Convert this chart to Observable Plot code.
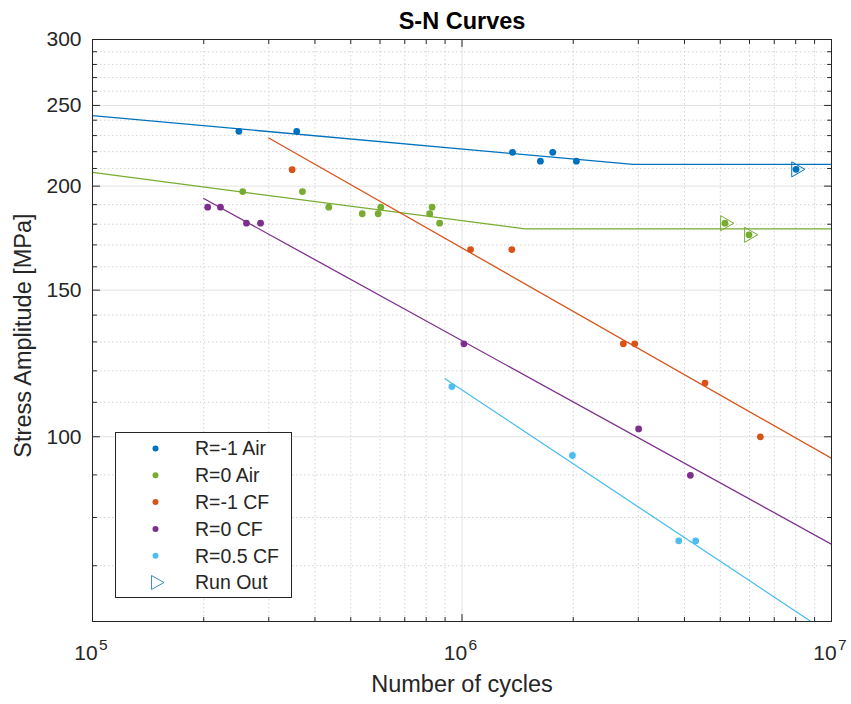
<!DOCTYPE html>
<html>
<head>
<meta charset="utf-8">
<script src="https://cdn.jsdelivr.net/npm/d3@7"></script>
<script src="https://cdn.jsdelivr.net/npm/@observablehq/plot@0.6"></script>
<style>
  html, body { margin: 0; padding: 0; background: #fff; }
  #wrap { position: relative; width: 851px; height: 704px; font-family: "Liberation Sans", Arial, Helvetica, sans-serif; }
</style>
</head>
<body>
<div id="wrap"></div>
<script>
// ---- Data ----
const seriesNames = ["R=-1 Air", "R=0 Air", "R=-1 CF", "R=0 CF", "R=0.5 CF"];
const seriesColors = ["#0072BD", "#77AC30", "#D95319", "#7E2F8E", "#4DBEEE"];

const airR1_N = [2.49e5, 3.57e5, 1.37e6, 1.63e6, 1.76e6, 2.04e6, 8.02e6];
const airR1_S = [232.7, 232.7, 219.6, 214.3, 219.6, 214.3, 209.5];
const airR0_N = [2.55e5, 3.70e5, 4.36e5, 5.37e5, 5.93e5, 6.03e5, 8.18e5, 8.30e5, 8.70e5, 5.15e6, 5.98e6];
const airR0_S = [197, 197, 188.7, 185.3, 185.3, 188.7, 185.3, 188.7, 180.5, 180.5, 174.8];
const cfR1_N = [3.47e5, 1.055e6, 1.364e6, 2.733e6, 2.934e6, 4.547e6, 6.42e6];
const cfR1_S = [209.3, 167.8, 167.8, 129.3, 129.3, 116, 100];
const cfR0_N = [2.05e5, 2.22e5, 2.61e5, 2.85e5, 1.012e6, 3.006e6, 4.15e6];
const cfR0_S = [188.7, 188.7, 180.5, 180.5, 129.3, 102.2, 89.9];
const cfR05_N = [9.39e5, 1.99e6, 3.86e6, 4.29e6];
const cfR05_S = [114.9, 94.95, 75, 75];

const runOut_N = [8.02e6, 5.15e6, 5.98e6];
const runOut_S = [209.5, 180.5, 174.8];
const runOut_series = [0, 1, 1];

// fitted S-N curve vertices
const lineAirR1_N = [1e5, 2.9e6, 1e7];
const lineAirR1_S = [243, 212.4, 212.4];
const lineAirR0_N = [1e5, 1.48e6, 1e7];
const lineAirR0_S = [207.7, 177.7, 177.7];
const lineCfR1_N = [3.0e5, 1e7];
const lineCfR1_S = [228.5, 94.2];
const lineCfR0_N = [2.0e5, 1e7];
const lineCfR0_S = [193.3, 74.3];
const lineCfR05_N = [9.0e5, 8.8e6];
const lineCfR05_S = [117.4, 60];

const xMajor = [1e5, 1e6, 1e7];
const xExponent = ["5", "6", "7"];
const xMinor = [2e5, 3e5, 4e5, 5e5, 6e5, 7e5, 8e5, 9e5, 2e6, 3e6, 4e6, 5e6, 6e6, 7e6, 8e6, 9e6];
const yMajor = [100, 150, 200, 250, 300];
const yMinor = [60, 70, 80, 90, 110, 120, 130, 140, 160, 170, 180, 190, 210, 220, 230, 240, 260, 270, 280, 290];

const titleText = "S-N Curves";
const xLabel = "Number of cycles";
const yLabel = "Stress Amplitude [MPa]";
const runOutLabel = "Run Out";

// ---- Build ----
const zip = (N, S) => N.map((n, i) => ({n, s: S[i]}));
const pointSets = [zip(airR1_N, airR1_S), zip(airR0_N, airR0_S), zip(cfR1_N, cfR1_S), zip(cfR0_N, cfR0_S), zip(cfR05_N, cfR05_S)];
const lineSets = [zip(lineAirR1_N, lineAirR1_S), zip(lineAirR0_N, lineAirR0_S), zip(lineCfR1_N, lineCfR1_S), zip(lineCfR0_N, lineCfR0_S), zip(lineCfR05_N, lineCfR05_S)];
const runOuts = runOut_N.map((n, i) => ({n, s: runOut_S[i], c: seriesColors[runOut_series[i]]}));
const xTickData = xMajor.map((v, i) => ({v, e: xExponent[i]}));

const ink = "#262626";
const marks = [];
// grid
marks.push(Plot.ruleX(xMinor, {stroke: "#c8c8c8", strokeWidth: 0.8, strokeDasharray: "1.5,2.5"}));
marks.push(Plot.ruleY(yMinor, {stroke: "#c8c8c8", strokeWidth: 0.8, strokeDasharray: "1.5,2.5"}));
marks.push(Plot.ruleX([1e6], {stroke: "#e2e2e2", strokeWidth: 1}));
marks.push(Plot.ruleY(yMajor, {stroke: "#e2e2e2", strokeWidth: 1}));
// curves
lineSets.forEach((L, i) => marks.push(Plot.line(L, {x: "n", y: "s", stroke: seriesColors[i], strokeWidth: 1.3, clip: true})));
// points
pointSets.forEach((P, i) => marks.push(Plot.dot(P, {x: "n", y: "s", fill: seriesColors[i], r: 3.4, stroke: "none"})));
// run outs
marks.push(Plot.dot(runOuts, {x: "n", y: "s", symbol: "triangle", rotate: 90, r: 5.6, stroke: "c", fill: "none", strokeWidth: 1}));
// frame
marks.push(Plot.frame({stroke: ink, strokeWidth: 1}));
// inward ticks
function ticks(data, ch, anchor, rot, len) {
  return Plot.vector(data, {[ch]: d => d, frameAnchor: anchor, rotate: rot, length: len, anchor: "start", stroke: ink, strokeWidth: 1, shape: {draw(ctx, l) { ctx.moveTo(0, 0); ctx.lineTo(0, -l); }}});
}
marks.push(ticks(yMajor, "y", "left", 90, 7));
marks.push(ticks(yMinor, "y", "left", 90, 4));
marks.push(ticks(yMajor, "y", "right", -90, 7));
marks.push(ticks(yMinor, "y", "right", -90, 4));
marks.push(ticks(xMajor, "x", "bottom", 0, 7));
marks.push(ticks(xMinor, "x", "bottom", 0, 4));
marks.push(ticks(xMajor, "x", "top", 180, 7));
marks.push(ticks(xMinor, "x", "top", 180, 4));
// tick labels
marks.push(Plot.text(yMajor, {y: d => d, text: d => String(d), frameAnchor: "left", textAnchor: "end", lineAnchor: "middle", dx: -11, fontSize: 21, fill: ink}));
marks.push(Plot.text(xTickData, {x: "v", text: () => "10", frameAnchor: "bottom", textAnchor: "middle", lineAnchor: "middle", dx: -6.5, dy: 32, fontSize: 21, fill: ink}));
marks.push(Plot.text(xTickData, {x: "v", text: "e", frameAnchor: "bottom", textAnchor: "middle", lineAnchor: "middle", dx: 10.8, dy: 23.5, fontSize: 15.5, fill: ink}));
// labels and title
marks.push(Plot.text([titleText], {frameAnchor: "top", textAnchor: "middle", lineAnchor: "middle", dy: -18, fontSize: 23.5, fontWeight: "bold", fill: "#000"}));
marks.push(Plot.text([xLabel], {frameAnchor: "bottom", textAnchor: "middle", lineAnchor: "middle", dy: 63, fontSize: 23.5, fill: ink}));
marks.push(Plot.text([yLabel], {frameAnchor: "left", textAnchor: "middle", lineAnchor: "middle", dx: -69, dy: 5, rotate: -90, fontSize: 23.5, fill: ink}));

const chart = Plot.plot({
  width: 851,
  height: 704,
  marginLeft: 92,
  marginRight: 20,
  marginTop: 39,
  marginBottom: 83,
  style: {fontFamily: '"Liberation Sans", Arial, Helvetica, sans-serif', background: "#fff", overflow: "visible"},
  x: {type: "log", domain: [1e5, 1e7], axis: null},
  y: {type: "log", domain: [60, 300], axis: null},
  marks
});
const wrap = document.getElementById("wrap");
wrap.appendChild(chart);

// ---- Legend ----
const ns = "http://www.w3.org/2000/svg";
const lg = document.createElementNS(ns, "svg");
lg.setAttribute("width", 177);
lg.setAttribute("height", 166);
lg.style.position = "absolute";
lg.style.left = "115px";
lg.style.top = "432px";
const rect = document.createElementNS(ns, "rect");
rect.setAttribute("x", 0.5); rect.setAttribute("y", 0.5);
rect.setAttribute("width", 176); rect.setAttribute("height", 165);
rect.setAttribute("fill", "#fff"); rect.setAttribute("stroke", ink);
lg.appendChild(rect);
const rowY = i => 16.5 + i * 26.8;
const entries = seriesNames.map((n, i) => ({n, c: seriesColors[i], kind: "dot"})).concat([{n: runOutLabel, c: "#3d8fc6", kind: "tri"}]);
entries.forEach((e, i) => {
  const y = rowY(i);
  if (e.kind === "dot") {
    const c = document.createElementNS(ns, "circle");
    c.setAttribute("cx", 40.5); c.setAttribute("cy", y); c.setAttribute("r", 3);
    c.setAttribute("fill", e.c);
    lg.appendChild(c);
  } else {
    const p = document.createElementNS(ns, "path");
    p.setAttribute("d", `M${36.5},${y - 7} L${49},${y} L${36.5},${y + 7} Z`);
    p.setAttribute("fill", "none"); p.setAttribute("stroke", e.c); p.setAttribute("stroke-width", 1);
    lg.appendChild(p);
  }
  const t = document.createElementNS(ns, "text");
  t.setAttribute("x", 80); t.setAttribute("y", y);
  t.setAttribute("dy", "0.35em");
  t.setAttribute("font-size", 19.5);
  t.setAttribute("fill", ink);
  t.setAttribute("font-family", '"Liberation Sans", Arial, Helvetica, sans-serif');
  t.textContent = e.n;
  lg.appendChild(t);
});
wrap.appendChild(lg);
</script>
</body>
</html>
